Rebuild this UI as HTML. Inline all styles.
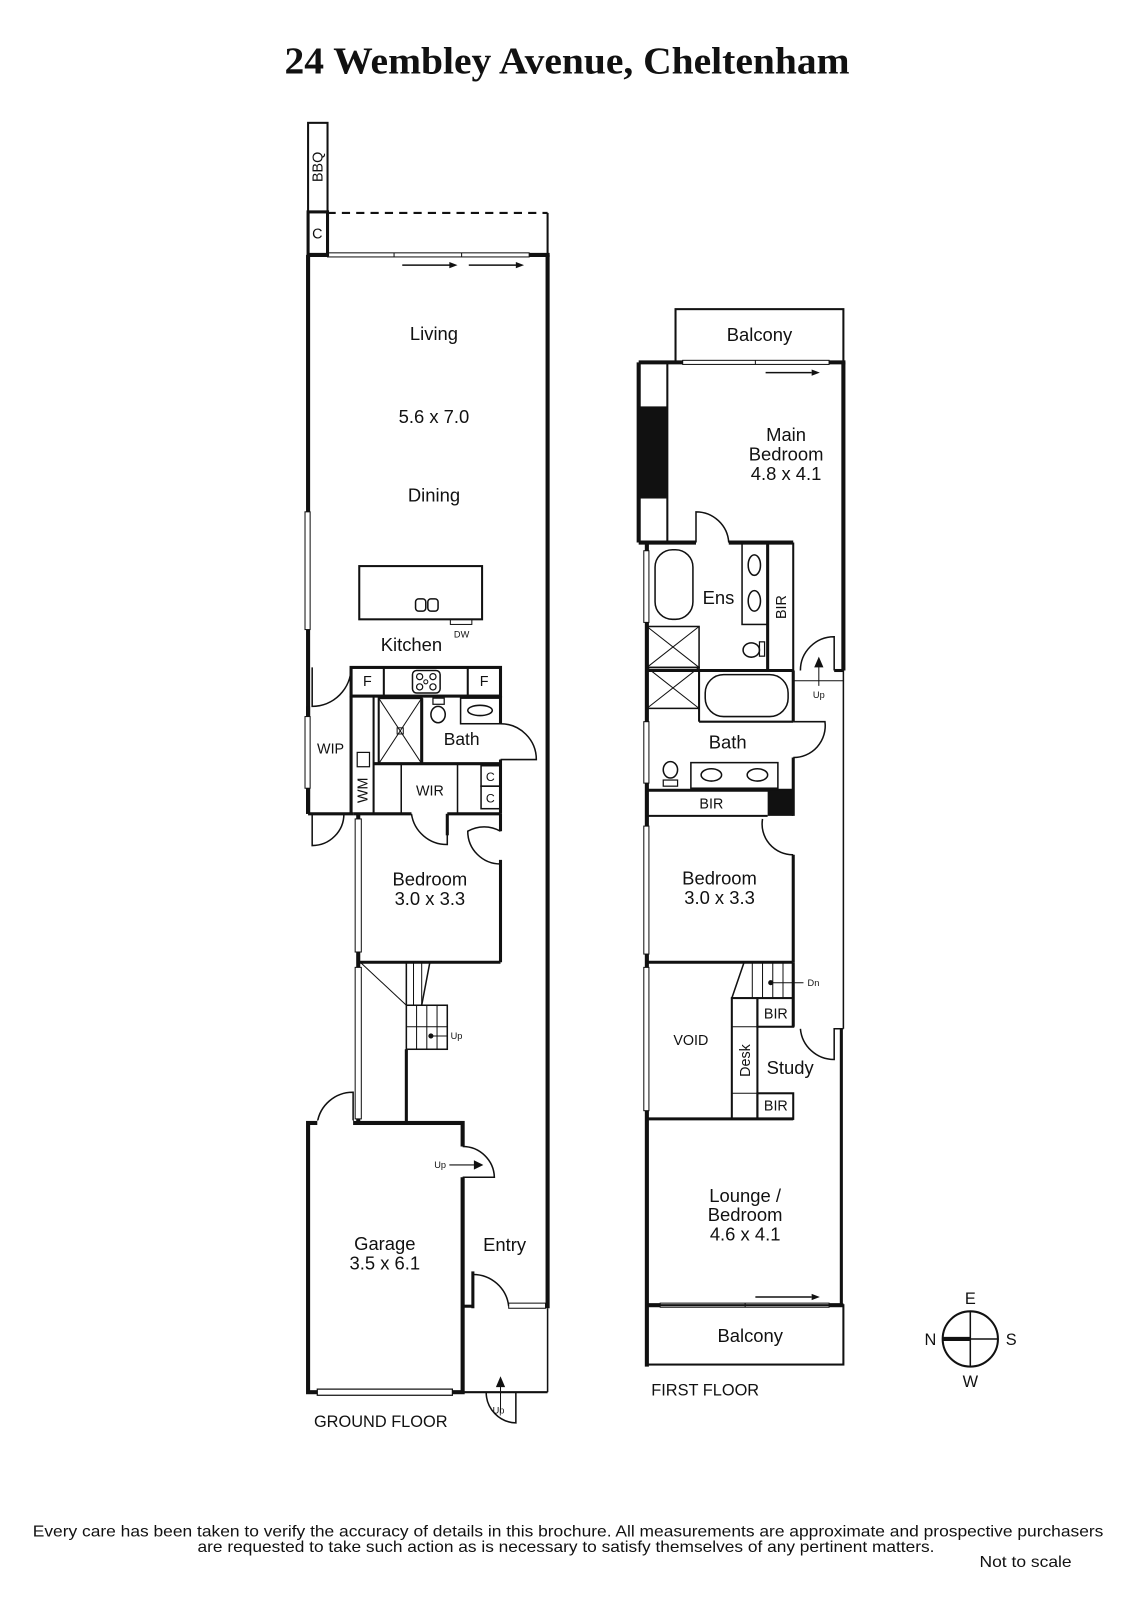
<!DOCTYPE html>
<html><head><meta charset="utf-8"><style>
html,body{margin:0;padding:0;background:#fff;}
svg{display:block;}
text{font-family:"Liberation Sans",sans-serif;fill:#111;}
</style></head><body>
<svg width="1131" height="1600" viewBox="0 0 1105 1563" preserveAspectRatio="none" xmlns="http://www.w3.org/2000/svg">
<g fill="none" stroke="#111" stroke-width="2">
<!-- ===== GROUND FLOOR ===== -->
<rect x="301" y="120" width="19" height="87"/>
<rect x="301" y="207" width="19" height="42" stroke-width="3"/>
<line x1="320" y1="208" x2="535" y2="208" stroke-dasharray="8,6"/>
<line x1="535" y1="208" x2="535" y2="249"/>
<line x1="301" y1="249" x2="320" y2="249" stroke-width="4"/>
<line x1="517" y1="249" x2="537" y2="249" stroke-width="4"/>
<rect x="320" y="247" width="197" height="4" stroke-width="1"/>
<line x1="385" y1="247" x2="385" y2="251" stroke-width="1"/><line x1="451" y1="247" x2="451" y2="251" stroke-width="1"/>
<line x1="301" y1="249" x2="301" y2="795" stroke-width="4"/>
<line x1="535" y1="249" x2="535" y2="1278" stroke-width="4"/>
<rect x="298" y="500" width="5" height="115" stroke-width="1" fill="#fff"/>
<rect x="351" y="553" width="120" height="52"/>
<rect x="406" y="585" width="10" height="12" rx="3" stroke-width="1.5"/><rect x="418" y="585" width="10" height="12" rx="3" stroke-width="1.5"/>
<rect x="440" y="605" width="21" height="5" stroke-width="1"/>
<rect x="343" y="652" width="146" height="28" stroke-width="3"/>
<line x1="375" y1="652" x2="375" y2="680" stroke-width="2"/><line x1="457" y1="652" x2="457" y2="680" stroke-width="2"/>
<rect x="403" y="655" width="27" height="22" rx="4" stroke-width="1.5"/>
<circle cx="410" cy="661" r="3" stroke-width="1.2"/><circle cx="423" cy="661" r="3" stroke-width="1.2"/><circle cx="410" cy="671" r="3" stroke-width="1.2"/><circle cx="423" cy="671" r="3" stroke-width="1.2"/><circle cx="416" cy="666" r="2" stroke-width="1"/>
<path d="M305 652 L305 690 A38 38 0 0 0 343 652" stroke-width="1.5"/>
<line x1="301" y1="690" x2="301" y2="795" stroke-width="4"/>
<rect x="298" y="700" width="5" height="70" stroke-width="1" fill="#fff"/>
<path d="M305 795 L305 826 A31 31 0 0 0 336 795" stroke-width="1.5"/>
<line x1="301" y1="795" x2="345" y2="795" stroke-width="3"/>
<line x1="343" y1="680" x2="343" y2="795" stroke-width="3"/>
<line x1="365" y1="680" x2="365" y2="795" stroke-width="2"/>
<rect x="349" y="735" width="12" height="14" stroke-width="1.2"/>
<rect x="370" y="682" width="42" height="64" stroke-width="2"/>
<line x1="370" y1="682" x2="412" y2="746" stroke-width="1"/><line x1="412" y1="682" x2="370" y2="746" stroke-width="1"/>
<rect x="388" y="711" width="6" height="6" stroke-width="1"/>
<ellipse cx="428" cy="698" rx="7" ry="8" stroke-width="1.5"/><rect x="423" y="682" width="11" height="6" stroke-width="1.2"/>
<rect x="450" y="682" width="39" height="25" stroke-width="1.5"/><ellipse cx="469" cy="694" rx="12" ry="5" stroke-width="1.5"/>
<line x1="412" y1="682" x2="412" y2="746" stroke-width="3"/>
<line x1="489" y1="680" x2="489" y2="707" stroke-width="3"/>
<path d="M489 707 A35 35 0 0 1 524 742 L489 742" stroke-width="1.5"/>
<line x1="365" y1="746" x2="489" y2="746" stroke-width="3"/>
<line x1="489" y1="742" x2="489" y2="795" stroke-width="3"/>
<line x1="392" y1="746" x2="392" y2="795" stroke-width="1.5"/><line x1="447" y1="746" x2="447" y2="795" stroke-width="1.5"/>
<rect x="470" y="748" width="19" height="20" stroke-width="1.5"/><rect x="470" y="768" width="19" height="22" stroke-width="1.5"/>
<line x1="345" y1="795" x2="402" y2="795" stroke-width="3"/>
<line x1="437" y1="795" x2="489" y2="795" stroke-width="3"/>
<path d="M402 795 A35 35 0 0 0 437 825 L437 795" stroke-width="1.5"/>
<line x1="437" y1="795" x2="437" y2="816" stroke-width="3"/>
<line x1="350" y1="795" x2="350" y2="1097" stroke-width="4"/>
<rect x="347" y="800" width="6" height="130" stroke-width="1" fill="#fff"/>
<rect x="347" y="945" width="6" height="148" stroke-width="1" fill="#fff"/>
<line x1="489" y1="795" x2="489" y2="812" stroke-width="3"/>
<path d="M489 812 A32 32 0 0 0 457 812 A32 32 0 0 0 489 844" stroke-width="1.5"/>
<line x1="489" y1="840" x2="489" y2="940" stroke-width="3"/>
<line x1="350" y1="940" x2="489" y2="940" stroke-width="3"/>
<line x1="352" y1="940" x2="397" y2="982" stroke-width="1"/>
<path d="M397 940 L397 982 L412 982 L420 940" stroke-width="1.5"/>
<line x1="404" y1="940" x2="404" y2="982" stroke-width="1"/><line x1="412" y1="940" x2="412" y2="982" stroke-width="1"/>
<rect x="397" y="982" width="40" height="43" stroke-width="1.5"/>
<line x1="407" y1="982" x2="407" y2="1025" stroke-width="1"/><line x1="417" y1="982" x2="417" y2="1025" stroke-width="1"/><line x1="427" y1="982" x2="427" y2="1025" stroke-width="1"/>
<line x1="397" y1="1003" x2="437" y2="1003" stroke-width="1"/>
<line x1="420" y1="1012" x2="437" y2="1012" stroke-width="1"/><circle cx="421" cy="1012" r="1.5" fill="#111"/>
<line x1="397" y1="1025" x2="397" y2="1097" stroke-width="3"/>
<rect x="301" y="1097" width="151" height="263" stroke-width="4"/>
<path d="M310 1097 A35 35 0 0 1 345 1067 L345 1097" stroke-width="1.5"/>
<line x1="310" y1="1097" x2="345" y2="1097" stroke="#fff" stroke-width="5"/>
<rect x="310" y="1357" width="132" height="6" stroke-width="1.2" fill="#fff"/>
<line x1="452" y1="1120" x2="452" y2="1150" stroke="#fff" stroke-width="5"/>
<path d="M452 1120 A31 31 0 0 1 483 1150 L452 1150" stroke-width="1.5"/>
<line x1="439" y1="1138" x2="470" y2="1138" stroke-width="1"/><path d="M470 1138 L464 1135 L464 1141 Z" fill="#111"/>
<line x1="462" y1="1242" x2="462" y2="1278" stroke-width="3"/>
<line x1="452" y1="1276" x2="462" y2="1276" stroke-width="3"/>
<path d="M462 1245 A35 35 0 0 1 497 1276" stroke-width="1.5"/>
<rect x="497" y="1273" width="36" height="5" stroke-width="1" fill="#fff"/>
<line x1="452" y1="1360" x2="535" y2="1360" stroke-width="2"/>
<line x1="535" y1="1278" x2="535" y2="1360" stroke-width="1.5"/>
<path d="M504 1360 L504 1390 A30 30 0 0 1 475 1360" stroke-width="1.5"/>
<line x1="489" y1="1380" x2="489" y2="1350" stroke-width="1"/><path d="M489 1347 L486 1354 L492 1354 Z" fill="#111"/>

<!-- ===== FIRST FLOOR ===== -->
<rect x="660" y="302" width="164" height="52"/>
<line x1="624" y1="354" x2="667" y2="354" stroke-width="4"/><line x1="810" y1="354" x2="826" y2="354" stroke-width="4"/>
<rect x="667" y="352" width="143" height="4" stroke-width="1" fill="#fff"/><line x1="738" y1="352" x2="738" y2="356" stroke-width="1"/>
<line x1="624" y1="354" x2="624" y2="530" stroke-width="4"/>
<line x1="652" y1="354" x2="652" y2="530" stroke-width="2"/>
<rect x="624" y="397" width="28" height="90" fill="#111" stroke="none"/>
<line x1="824" y1="354" x2="824" y2="655" stroke-width="4"/>
<line x1="624" y1="530" x2="680" y2="530" stroke-width="4"/>
<path d="M680 530 L680 500 A32 32 0 0 1 712 530" stroke-width="1.5"/>
<line x1="712" y1="530" x2="775" y2="530" stroke-width="4"/>
<line x1="632" y1="530" x2="632" y2="1335" stroke-width="4"/>
<rect x="629" y="538" width="5" height="70" stroke-width="1" fill="#fff"/>
<rect x="640" y="537" width="37" height="68" rx="17" stroke-width="1.5"/>
<rect x="725" y="530" width="25" height="80" stroke-width="1.5"/>
<ellipse cx="737" cy="552" rx="6" ry="10" stroke-width="1.5"/><ellipse cx="737" cy="587" rx="6" ry="10" stroke-width="1.5"/>
<line x1="750" y1="530" x2="750" y2="655" stroke-width="3"/>
<line x1="775" y1="530" x2="775" y2="655" stroke-width="2"/>
<ellipse cx="734" cy="635" rx="8" ry="7" stroke-width="1.5"/><rect x="742" y="627" width="5" height="14" stroke-width="1.2"/>
<rect x="632" y="612" width="51" height="40" stroke-width="1.5"/><line x1="632" y1="612" x2="683" y2="652" stroke-width="1"/><line x1="683" y1="612" x2="632" y2="652" stroke-width="1"/>
<rect x="632" y="652" width="51" height="40" stroke-width="1.5"/><line x1="632" y1="652" x2="683" y2="692" stroke-width="1"/><line x1="683" y1="652" x2="632" y2="692" stroke-width="1"/>
<line x1="632" y1="655" x2="775" y2="655" stroke-width="3"/>
<path d="M782 655 A33 33 0 0 1 815 622 L815 655" stroke-width="1.5"/>
<line x1="815" y1="655" x2="824" y2="655" stroke-width="3"/>
<line x1="775" y1="665" x2="824" y2="665" stroke-width="1"/>
<line x1="800" y1="670" x2="800" y2="647" stroke-width="1"/><path d="M800 644 L797 651 L803 651 Z" fill="#111"/>
<line x1="824" y1="655" x2="824" y2="1005" stroke-width="1.5"/>
<line x1="683" y1="655" x2="683" y2="705" stroke-width="2"/><line x1="683" y1="705" x2="775" y2="705" stroke-width="2"/>
<rect x="689" y="659" width="81" height="41" rx="18" stroke-width="1.5"/>
<line x1="775" y1="655" x2="775" y2="705" stroke-width="3"/>
<path d="M775 705 L806 705 A31 31 0 0 1 775 740" stroke-width="1.5"/>
<line x1="775" y1="740" x2="775" y2="797" stroke-width="3"/>
<rect x="629" y="705" width="5" height="60" stroke-width="1" fill="#fff"/>
<rect x="675" y="745" width="85" height="25" stroke-width="1.5"/>
<ellipse cx="695" cy="757" rx="10" ry="6" stroke-width="1.5"/><ellipse cx="740" cy="757" rx="10" ry="6" stroke-width="1.5"/>
<ellipse cx="655" cy="752" rx="7" ry="8" stroke-width="1.5"/><rect x="648" y="762" width="14" height="6" stroke-width="1.2"/>
<line x1="632" y1="772" x2="775" y2="772" stroke-width="3"/>
<rect x="750" y="772" width="25" height="25" fill="#111" stroke="none"/>
<line x1="632" y1="797" x2="750" y2="797" stroke-width="2"/>
<rect x="629" y="807" width="5" height="125" stroke-width="1" fill="#fff"/>
<path d="M745 800 A30 30 0 0 0 775 835" stroke-width="1.5"/>
<line x1="775" y1="835" x2="775" y2="940" stroke-width="3"/>
<line x1="632" y1="940" x2="775" y2="940" stroke-width="3"/>
<path d="M727 940 L715 975 L775 975" stroke-width="1.5"/>
<line x1="735" y1="940" x2="735" y2="975" stroke-width="1"/><line x1="745" y1="940" x2="745" y2="975" stroke-width="1"/><line x1="755" y1="940" x2="755" y2="975" stroke-width="1"/><line x1="765" y1="940" x2="765" y2="975" stroke-width="1"/>
<line x1="775" y1="940" x2="775" y2="1003" stroke-width="3"/>
<line x1="753" y1="960" x2="785" y2="960" stroke-width="1"/><circle cx="753" cy="960" r="1.5" fill="#111"/>
<rect x="629" y="945" width="5" height="140" stroke-width="1" fill="#fff"/>
<rect x="715" y="975" width="25" height="118" stroke-width="2"/>
<line x1="715" y1="1003" x2="740" y2="1003" stroke-width="1"/><line x1="715" y1="1068" x2="740" y2="1068" stroke-width="1"/>
<rect x="740" y="975" width="35" height="28" stroke-width="2"/>
<rect x="740" y="1068" width="35" height="25" stroke-width="2"/>
<line x1="632" y1="1093" x2="775" y2="1093" stroke-width="3"/>
<path d="M782 1005 A33 33 0 0 0 815 1035 L815 1005 L824 1005" stroke-width="1.5"/>
<line x1="822" y1="1005" x2="822" y2="1275" stroke-width="3"/>
<line x1="632" y1="1275" x2="645" y2="1275" stroke-width="4"/><line x1="810" y1="1275" x2="824" y2="1275" stroke-width="4"/>
<rect x="645" y="1273" width="165" height="4" stroke-width="1" fill="#fff"/><line x1="728" y1="1273" x2="728" y2="1277" stroke-width="1"/>
<rect x="632" y="1275" width="192" height="58"/>
<circle cx="948" cy="1308" r="27"/>
<line x1="948" y1="1281" x2="948" y2="1335" stroke-width="1.5"/>
<line x1="948" y1="1308" x2="975" y2="1308" stroke-width="1.5"/>
<line x1="921" y1="1308" x2="948" y2="1308" stroke-width="4"/>
</g>
<g stroke="#111" stroke-width="1.5">
<line x1="393" y1="259" x2="440" y2="259"/><line x1="458" y1="259" x2="505" y2="259"/>
<line x1="748" y1="364" x2="793" y2="364"/>
<line x1="738" y1="1267" x2="793" y2="1267"/>
</g>
<g fill="#111">
<path d="M447 259 L439 256 L439 262 Z"/><path d="M512 259 L504 256 L504 262 Z"/>
<path d="M801 364 L793 361 L793 367 Z"/><path d="M801 1267 L793 1264 L793 1270 Z"/>
</g>
<text x="278" y="72" textLength="552" lengthAdjust="spacingAndGlyphs" font-weight="bold" font-size="37" style="font-family:'Liberation Serif',serif">24 Wembley Avenue, Cheltenham</text>
<g font-size="18" text-anchor="middle">
<text x="424" y="332">Living</text>
<text x="424" y="413">5.6 x 7.0</text>
<text x="424" y="490">Dining</text>
<text x="402" y="636">Kitchen</text>
<text x="451" y="728" font-size="17">Bath</text>
<text x="420" y="865">Bedroom</text><text x="420" y="884">3.0 x 3.3</text>
<text x="376" y="1221">Garage</text><text x="376" y="1240">3.5 x 6.1</text>
<text x="493" y="1222">Entry</text>
<text x="742" y="333">Balcony</text>
<text x="768" y="431">Main</text><text x="768" y="450">Bedroom</text><text x="768" y="469">4.8 x 4.1</text>
<text x="702" y="590">Ens</text>
<text x="711" y="731">Bath</text>
<text x="703" y="864">Bedroom</text><text x="703" y="883">3.0 x 3.3</text>
<text x="772" y="1049">Study</text>
<text x="728" y="1174">Lounge /</text><text x="728" y="1193">Bedroom</text><text x="728" y="1212">4.6 x 4.1</text>
<text x="733" y="1311">Balcony</text>
</g>
<g font-size="14" text-anchor="middle">
<text x="310" y="163" transform="rotate(-90 310 163)" dy="5">BBQ</text>
<text x="310" y="233">C</text>
<text x="359" y="670">F</text><text x="473" y="670">F</text>
<text x="323" y="736">WIP</text>
<text x="420" y="777">WIR</text>
<text x="479" y="763" font-size="12">C</text><text x="479" y="784" font-size="12">C</text>
<text x="354" y="772" transform="rotate(-90 354 772)" dy="5">WM</text>
<text x="763" y="593" transform="rotate(-90 763 593)" dy="5">BIR</text>
<text x="695" y="790">BIR</text>
<text x="675" y="1021">VOID</text>
<text x="728" y="1036" transform="rotate(-90 728 1036)" dy="5">Desk</text>
<text x="758" y="995">BIR</text><text x="758" y="1085">BIR</text>
<text x="372" y="1394" font-size="16">GROUND FLOOR</text>
<text x="689" y="1363" font-size="16">FIRST FLOOR</text>
<text x="948" y="1274" font-size="16">E</text>
<text x="948" y="1355" font-size="16">W</text>
<text x="909" y="1314" font-size="16">N</text>
<text x="988" y="1314" font-size="16">S</text>
</g>
<g font-size="9" text-anchor="middle">
<text x="451" y="623">DW</text>
<text x="430" y="1141">Up</text>
<text x="446" y="1015">Up</text>
<text x="487" y="1381">Up</text>
<text x="800" y="682">Up</text>
<text x="789" y="963" text-anchor="start">Dn</text>
</g>
<g font-size="15.5">
<text x="32" y="1501" textLength="1046" lengthAdjust="spacingAndGlyphs">Every care has been taken to verify the accuracy of details in this brochure.  All measurements are approximate and prospective purchasers</text>
<text x="193" y="1516" textLength="720" lengthAdjust="spacingAndGlyphs">are requested to take such action as is necessary to satisfy themselves of any pertinent matters.</text>
<text x="957" y="1531" textLength="90" lengthAdjust="spacingAndGlyphs">Not to scale</text>
</g>
</svg>
</body></html>
